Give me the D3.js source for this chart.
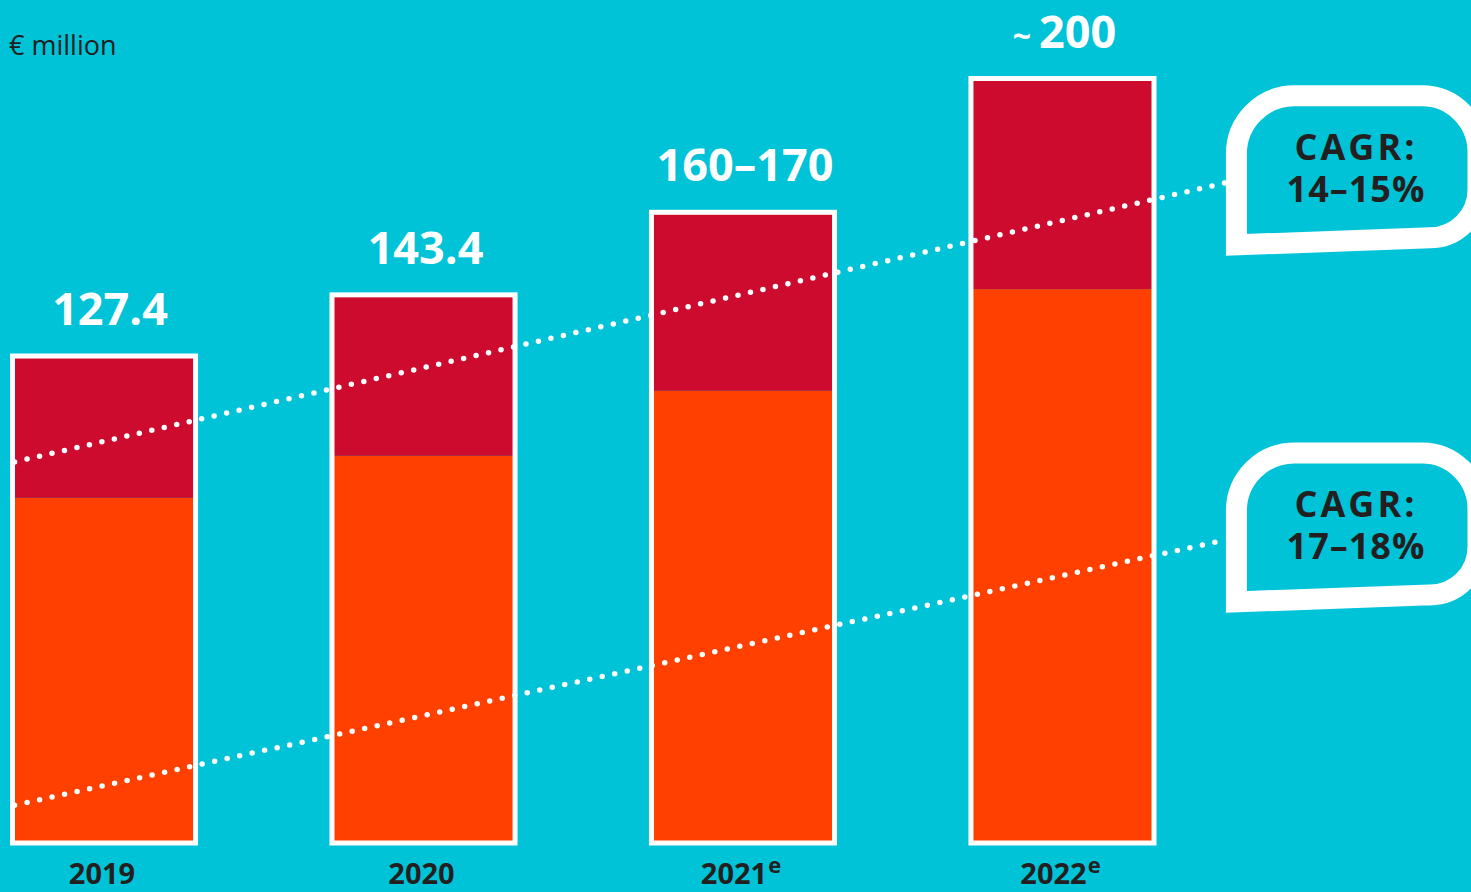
<!DOCTYPE html>
<html>
<head>
<meta charset="utf-8">
<script src="https://cdn.jsdelivr.net/npm/d3@7"></script>
<style>
	html, body { margin: 0; padding: 0; background: #00c3d8; overflow: hidden; }
	svg { display: block; font-family: "Open Sans", sans-serif; }
</style>
</head>
<body>
<svg id="chart" width="1471" height="892"></svg>
<script>
	// values (€ million)
	const years = ["2019", "2020", "2021", "2022"];
	const estimated = [false, false, true, true];
	const totals = [127.4, 143.4, 165, 200];
	const lowerPart = [90.3, 101.3, 118.3, 144.9];
	const totalLabels = ["127.4", "143.4", "160–170", "~200"];

	// trend lines: [category index, value] at both ends
	const trendUpper = [[-0.28, 99.7], [3.51, 172.7]];
	const trendLower = [[-0.28, 9.9], [3.51, 79.3]];
	const cagrLabels = ["14–15%", "17–18%"];

	const colors = {
		bg: "#00c3d8",
		red: "#cd0b2e",
		orange: "#ff4000",
		text: "#231f20"
	};

	const svg = d3.select("#chart");
	const width = 1471, height = 892;

	svg.append("rect")
		.attr("width", width)
		.attr("height", height)
		.attr("fill", colors.bg);

	let x = d3.scaleBand()
		.domain(years)
		.range([12.5, 1154])
		.paddingInner(0.427)
		.paddingOuter(0);

	let y = d3.scaleLinear()
		.domain([0, 200])
		.range([843, 78.5]);

	// continuous x for the trend lines, by category index
	let xi = d3.scaleLinear()
		.domain([0, years.length - 1])
		.range([x(years[0]) + x.bandwidth() / 2, x(years[years.length - 1]) + x.bandwidth() / 2]);

	const data = years.map((yr, i) => ({
		year: yr,
		est: estimated[i],
		total: totals[i],
		low: lowerPart[i],
		label: totalLabels[i]
	}));

	const bars = svg.append("g").selectAll("g")
		.data(data)
		.join("g");

	bars.append("rect")
		.attr("x", d => x(d.year))
		.attr("width", x.bandwidth())
		.attr("y", d => y(d.low))
		.attr("height", d => y(0) - y(d.low))
		.attr("fill", colors.orange);

	bars.append("rect")
		.attr("x", d => x(d.year))
		.attr("width", x.bandwidth())
		.attr("y", d => y(d.total))
		.attr("height", d => y(d.low) - y(d.total))
		.attr("fill", colors.red);

	bars.append("rect")
		.attr("x", d => x(d.year))
		.attr("width", x.bandwidth())
		.attr("y", d => y(d.total))
		.attr("height", d => y(0) - y(d.total))
		.attr("fill", "none")
		.attr("stroke", "white")
		.attr("stroke-width", 5);

	// value labels above bars
	bars.append("text")
		.attr("x", (d, i) => x(d.year) + x.bandwidth() / 2 + (i === 0 ? 6 : 2))
		.attr("y", d => y(d.total) - 31)
		.attr("text-anchor", "middle")
		.attr("fill", "white")
		.attr("font-size", 45)
		.attr("font-weight", 700)
		.each(function(d) {
			const t = d3.select(this);
			if (d.label.startsWith("~")) {
				t.append("tspan").attr("font-size", 32).text("~");
				t.append("tspan").attr("dx", 8).text(d.label.slice(1));
			} else {
				t.text(d.label);
			}
		});

	// year labels
	bars.append("text")
		.attr("x", d => x(d.year) + x.bandwidth() / 2 - 2)
		.attr("y", 884)
		.attr("text-anchor", "middle")
		.attr("fill", colors.text)
		.attr("font-size", 29)
		.attr("font-weight", 700)
		.each(function(d) {
			const t = d3.select(this);
			t.append("tspan").text(d.year);
			if (d.est) {
				t.append("tspan").attr("font-size", 22).attr("dy", -11).attr("dx", 1).text("e");
			}
		});

	// dotted trend lines
	const lineDrawer = d3.line()
		.x(d => xi(d[0]))
		.y(d => y(d[1]));

	const trends = [trendUpper, trendLower];

	svg.append("g").selectAll("path")
		.data(trends)
		.join("path")
		.attr("d", lineDrawer)
		.attr("fill", "none")
		.attr("stroke", "white")
		.attr("stroke-width", 5.5)
		.attr("stroke-linecap", "round")
		.attr("stroke-dasharray", "0 12.8");

	// speech bubbles at the end of each trend line
	function bubblePath(L, T, B, R) {
		const r1 = 58, r2 = 56, r3 = 48;
		const Bright = B - 7;
		const p = d3.path();
		p.moveTo(L, B);
		p.lineTo(L, T + r1);
		p.arcTo(L, T, L + r1, T, r1);
		p.lineTo(R - r2, T);
		p.arcTo(R, T, R, T + r2, r2);
		p.lineTo(R, Bright - r3);
		p.arcTo(R, Bright, R - r3, Bright, r3);
		p.closePath();
		return p.toString();
	}

	const bubbles = svg.append("g").selectAll("g")
		.data(trends.map((t, i) => ({ end: t[1], label: cagrLabels[i] })))
		.join("g");

	bubbles.append("path")
		.attr("d", d => {
			const ex = xi(d.end[0]), ey = y(d.end[1]);
			return bubblePath(ex + 11, ey - 87, ey + 62, 1478);
		})
		.attr("fill", "none")
		.attr("stroke", "white")
		.attr("stroke-width", 21)
		.attr("stroke-linejoin", "miter");

	bubbles.append("text")
		.attr("x", 1356)
		.attr("y", d => y(d.end[1]) - 23)
		.attr("text-anchor", "middle")
		.attr("fill", colors.text)
		.attr("font-size", 36)
		.attr("font-weight", 700)
		.attr("letter-spacing", 3)
		.text("CAGR:");

	bubbles.append("text")
		.attr("x", 1356)
		.attr("y", d => y(d.end[1]) + 19)
		.attr("text-anchor", "middle")
		.attr("fill", colors.text)
		.attr("font-size", 36)
		.attr("font-weight", 700)
		.attr("letter-spacing", 1)
		.text(d => d.label);

	// unit
	svg.append("text")
		.attr("x", 9)
		.attr("y", 55)
		.attr("fill", colors.text)
		.attr("font-size", 27)
		.text("€ million");
</script>
</body>
</html>
